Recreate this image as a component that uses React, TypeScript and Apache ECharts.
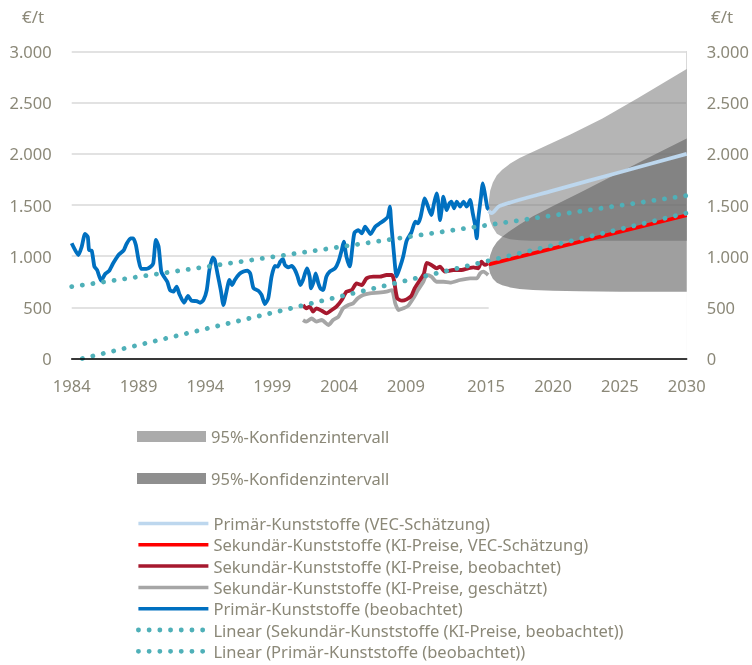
import React, { useEffect, useRef } from 'react';
import * as echarts from 'echarts';

// ---- data (year, €/t) ----
const primaryObserved: [number, number][] = [
  [1984.0, 1126], [1984.5, 1011], [1984.75, 1093], [1985.0, 1217], [1985.2, 1191], [1985.3, 1060],
  [1985.5, 1053], [1985.7, 897], [1985.9, 865], [1986.2, 760], [1986.5, 826], [1986.8, 856],
  [1987.1, 930], [1987.5, 1011], [1987.9, 1060], [1988.1, 1119], [1988.4, 1174], [1988.6, 1174],
  [1988.8, 1109], [1989.0, 963], [1989.2, 875], [1989.6, 875], [1989.9, 897], [1990.1, 930],
  [1990.3, 1158], [1990.5, 1093], [1990.7, 849], [1990.9, 800], [1991.15, 750], [1991.35, 669],
  [1991.6, 653], [1991.85, 702], [1992.05, 630], [1992.4, 545], [1992.7, 611], [1992.95, 566],
  [1993.35, 560], [1993.6, 545], [1993.85, 570], [1994.1, 669], [1994.3, 865], [1994.55, 989],
  [1994.7, 963], [1994.9, 832], [1995.15, 669], [1995.35, 523], [1995.55, 637], [1995.8, 767],
  [1996.0, 718], [1996.2, 767], [1996.55, 826], [1996.85, 849], [1997.15, 859], [1997.35, 832],
  [1997.6, 686], [1997.95, 663], [1998.2, 621], [1998.45, 532], [1998.7, 588], [1998.95, 800],
  [1999.2, 904], [1999.4, 897], [1999.6, 946], [1999.8, 970], [1999.95, 914], [2000.2, 891],
  [2000.45, 904], [2000.7, 865], [2000.9, 800], [2001.1, 718], [2001.3, 767], [2001.45, 832],
  [2001.6, 881], [2001.8, 800], [2001.9, 686], [2002.1, 750], [2002.25, 832], [2002.45, 734],
  [2002.6, 686], [2002.8, 669], [2003.05, 800], [2003.3, 849], [2003.7, 881], [2003.95, 946],
  [2004.2, 1060], [2004.35, 1142], [2004.55, 995], [2004.8, 900], [2005.0, 1093], [2005.15, 1229],
  [2005.45, 1255], [2005.7, 1223], [2005.95, 1288], [2006.1, 1262], [2006.35, 1216], [2006.7, 1288],
  [2007.05, 1321], [2007.4, 1353], [2007.65, 1386], [2007.8, 1484], [2007.9, 1321], [2008.1, 1028],
  [2008.3, 800], [2008.55, 890], [2008.8, 1000], [2009.05, 1150], [2009.4, 1230], [2009.7, 1337],
  [2009.9, 1321], [2010.1, 1386], [2010.3, 1516], [2010.4, 1565], [2010.65, 1484], [2010.9, 1402],
  [2011.1, 1516], [2011.3, 1614], [2011.4, 1549], [2011.55, 1353], [2011.7, 1484], [2011.8, 1581],
  [2012.05, 1451], [2012.25, 1516], [2012.4, 1533], [2012.6, 1467], [2012.8, 1533], [2013.05, 1484],
  [2013.3, 1533], [2013.55, 1484], [2013.8, 1549], [2014.0, 1418], [2014.15, 1321], [2014.3, 1174],
  [2014.4, 1353], [2014.6, 1565], [2014.75, 1712], [2014.9, 1614], [2015.1, 1467], [2015.2, 1457],
];

const secondaryObserved: [number, number][] = [
  [2001.3, 523], [2001.55, 490], [2001.8, 507], [2002.05, 458], [2002.3, 490], [2002.7, 467],
  [2003.05, 441], [2003.45, 474], [2003.8, 507], [2004.2, 572], [2004.55, 653], [2004.95, 669],
  [2005.3, 734], [2005.7, 718], [2006.05, 783], [2006.55, 800], [2007.05, 800], [2007.55, 816],
  [2007.95, 816], [2008.1, 767], [2008.35, 588], [2008.7, 565], [2009.05, 578], [2009.4, 611],
  [2009.65, 686], [2010.05, 767], [2010.35, 832], [2010.55, 935], [2010.9, 914], [2011.3, 881],
  [2011.55, 898], [2011.9, 849], [2012.55, 865], [2013.15, 865], [2013.65, 881], [2014.05, 891],
  [2014.4, 881], [2014.65, 946], [2014.9, 914], [2015.15, 930],
];

const secondaryEstimated: [number, number][] = [
  [2001.3, 376], [2001.55, 360], [2001.95, 392], [2002.3, 360], [2002.7, 376], [2003.2, 327],
  [2003.55, 376], [2003.95, 409], [2004.3, 490], [2004.7, 523], [2005.05, 539], [2005.4, 588],
  [2005.8, 621], [2006.3, 637], [2006.95, 643], [2007.55, 653], [2007.95, 669], [2008.2, 539],
  [2008.45, 474], [2008.8, 490], [2009.15, 513], [2009.55, 588], [2009.9, 669], [2010.3, 750],
  [2010.55, 816], [2010.9, 800], [2011.3, 750], [2011.8, 750], [2012.3, 741], [2013.05, 767],
  [2013.8, 783], [2014.3, 783], [2014.55, 832], [2014.8, 849], [2015.15, 816],
];

const primaryForecast: [number, number][] = [
  [2015.2, 1440], [2015.4, 1420], [2016, 1490], [2020, 1640], [2025, 1820], [2030, 2000],
];
const secondaryForecast: [number, number][] = [[2015.2, 920], [2030, 1400]];

const trendSecondary: [number, number][] = [[1984.8, 0], [2030, 1421]];
const trendPrimary: [number, number][] = [[1984, 702], [2030, 1592]];

// confidence bands: [year, lower, upper]
const bandPrimary: [number, number, number][] = [
  [2015.2, 1420, 1540], [2015.3, 1340, 1640], [2015.5, 1280, 1720], [2015.8, 1220, 1790],
  [2016.2, 1190, 1845], [2016.8, 1165, 1905], [2017.5, 1155, 1960], [2018.3, 1150, 2008],
  [2020, 1150, 2110], [2021.3, 1150, 2190], [2023.7, 1150, 2345], [2026.3, 1150, 2540],
  [2030, 1150, 2830],
];
const bandSecondary: [number, number, number][] = [
  [2015.2, 885, 945], [2015.3, 830, 1010], [2015.5, 780, 1080], [2015.8, 740, 1138],
  [2016.2, 715, 1189], [2016.8, 695, 1249], [2017.5, 680, 1310], [2018.5, 670, 1390],
  [2020, 662, 1490], [2022, 657, 1620], [2025, 653, 1820], [2027.5, 652, 1985],
  [2030, 652, 2150],
];

const xTickValues = [1984, 1989, 1994, 1999, 2004, 2009, 2015, 2020, 2025, 2030];
const yTickLabels = ['0', '500', '1.000', '1.500', '2.000', '2.500', '3.000'];

const NAMES = {
  bandP: 'Konfidenz P',
  bandS: 'Konfidenz S',
  primFc: 'Primär-Kunststoffe (VEC-Schätzung)',
  secFc: 'Sekundär-Kunststoffe (KI-Preise, VEC-Schätzung)',
  secObs: 'Sekundär-Kunststoffe (KI-Preise, beobachtet)',
  secEst: 'Sekundär-Kunststoffe (KI-Preise, geschätzt)',
  primObs: 'Primär-Kunststoffe (beobachtet)',
  trendS: 'Linear (Sekundär-Kunststoffe (KI-Preise, beobachtet))',
  trendP: 'Linear (Primär-Kunststoffe (beobachtet))',
};
const BAND_LABEL = '95%-Konfidenzintervall';

const TEXT = '#8b8878';
const FONT = '"Noto Sans", sans-serif';
const FS = 16.5;
const TEAL = '#4fb0b8';
const DOTTED = { type: [0.1, 10.6], cap: 'round', width: 4.8 };

function bandRenderer(band: [number, number, number][], fill: string) {
  return (params: any, api: any) => {
    if (params.dataIndex !== 0) return null;
    const upper = band.map((p) => api.coord([p[0], p[2]]));
    const lower = band.map((p) => api.coord([p[0], p[1]]));
    const base = band.map((p) => api.coord([p[0], 0]));
    return {
      type: 'group',
      children: [
        {
          type: 'polygon',
          shape: { points: [...lower, ...base.slice().reverse()] },
          style: { fill: '#ffffff' },
        },
        {
          type: 'polygon',
          shape: { points: [...upper, ...lower.slice().reverse()] },
          style: { fill },
        },
      ],
    };
  };
}

function lineSeries(name: string, data: [number, number][], color: string, extra: any = {}) {
  return {
    type: 'line',
    name,
    data,
    symbol: 'none',
    color,
    lineStyle: { color, width: 3.8, join: 'round', ...(extra.lineStyle || {}) },
    smooth: extra.smooth ?? false,
    z: extra.z ?? 3,
  };
}

const solidLegend = (name: string) => ({ name, lineStyle: { width: 3.5 } });
const dottedLegend = (name: string) => ({ name, lineStyle: { ...DOTTED } });

export default function App() {
  const ref = useRef<HTMLDivElement>(null);
  useEffect(() => {
    const chart = echarts.init(ref.current!, undefined, { renderer: 'svg' });
    const tickLabel = { color: TEXT, fontSize: FS, fontFamily: FONT };
    const option: any = {
      animation: false,
      textStyle: { fontFamily: FONT },
      title: [
        { text: '€/t', left: 22, top: 8, padding: 0, textStyle: { color: TEXT, fontSize: 17, fontWeight: 'normal', fontFamily: FONT } },
        { text: '€/t', left: 711, top: 8, padding: 0, textStyle: { color: TEXT, fontSize: 17, fontWeight: 'normal', fontFamily: FONT } },
      ],
      grid: { left: 71.7, right: 65.3, top: 51.5, bottom: 306.5, containLabel: false },
      xAxis: {
        type: 'value',
        min: 1984,
        max: 2030,
        z: 5,
        splitLine: { show: false },
        axisTick: { show: false },
        axisLine: { show: true, lineStyle: { color: '#000', width: 1.5 } },
        axisLabel: {
          customValues: xTickValues,
          formatter: (v: number) => String(v),
          margin: 18,
          ...tickLabel,
        },
      },
      yAxis: [
        {
          type: 'value',
          min: 0,
          max: 3000,
          interval: 500,
          axisLine: { show: false },
          axisTick: { show: false },
          splitLine: { show: true, lineStyle: { color: '#d9d9d9', width: 1.5 } },
          axisLabel: {
            formatter: (v: number) => yTickLabels[Math.round(v / 500)],
            margin: 20,
            ...tickLabel,
          },
        },
        {
          type: 'value',
          position: 'right',
          min: 0,
          max: 3000,
          interval: 500,
          axisLine: { show: true, lineStyle: { color: '#d9d9d9', width: 1 } },
          axisTick: { show: false },
          splitLine: { show: false },
          axisLabel: {
            formatter: (v: number) => yTickLabels[Math.round(v / 500)],
            margin: 20,
            ...tickLabel,
          },
        },
      ],
      legend: [
        {
          left: 137,
          top: 428,
          padding: 0,
          orient: 'vertical',
          itemWidth: 69,
          itemHeight: 11,
          itemGap: 25,
          selectedMode: false,
          formatter: () => BAND_LABEL,
          textStyle: { color: TEXT, fontSize: FS, fontFamily: FONT },
          data: [
            { name: NAMES.bandP, icon: 'rect', itemStyle: { color: '#ababab' } },
            { name: NAMES.bandS, icon: 'rect', itemStyle: { color: '#8f8f8f' } },
          ],
        },
        {
          left: 136,
          top: 515,
          height: 160,
          padding: 0,
          orient: 'vertical',
          itemWidth: 70,
          itemHeight: 14,
          itemGap: 4.3,
          selectedMode: false,
          itemStyle: { opacity: 0 },
          textStyle: { color: TEXT, fontSize: FS, fontFamily: FONT },
          data: [
            solidLegend(NAMES.primFc),
            solidLegend(NAMES.secFc),
            solidLegend(NAMES.secObs),
            solidLegend(NAMES.secEst),
            solidLegend(NAMES.primObs),
            dottedLegend(NAMES.trendS),
            dottedLegend(NAMES.trendP),
          ],
        },
      ],
      series: [
        {
          type: 'custom',
          name: NAMES.bandP,
          data: bandPrimary,
          encode: { x: 0, y: [1, 2] },
          itemStyle: { color: '#ababab' },
          renderItem: bandRenderer(bandPrimary, 'rgba(120,120,120,0.55)'),
          clip: true,
          z: 1,
        },
        {
          type: 'custom',
          name: NAMES.bandS,
          data: bandSecondary,
          encode: { x: 0, y: [1, 2] },
          itemStyle: { color: '#8f8f8f' },
          renderItem: bandRenderer(bandSecondary, 'rgba(100,100,100,0.62)'),
          clip: true,
          z: 1,
        },
        lineSeries(NAMES.primObs, primaryObserved, '#0070c0', { smooth: 0.2 }),
        lineSeries(NAMES.secEst, secondaryEstimated, '#a6a6a6', { smooth: 0.2 }),
        lineSeries(NAMES.secObs, secondaryObserved, '#a6192e', { smooth: 0.2 }),
        lineSeries(NAMES.primFc, primaryForecast, '#bdd7ee', { smooth: 0.3 }),
        lineSeries(NAMES.secFc, secondaryForecast, '#ff0000'),
        lineSeries(NAMES.trendS, trendSecondary, TEAL, { lineStyle: DOTTED, z: 4 }),
        lineSeries(NAMES.trendP, trendPrimary, TEAL, { lineStyle: DOTTED, z: 4 }),
      ],
    };
    chart.setOption(option);
    return () => chart.dispose();
  }, []);
  return <div ref={ref} style={{ position: 'fixed', left: 0, top: 0, width: 752, height: 665 }} />;
}
